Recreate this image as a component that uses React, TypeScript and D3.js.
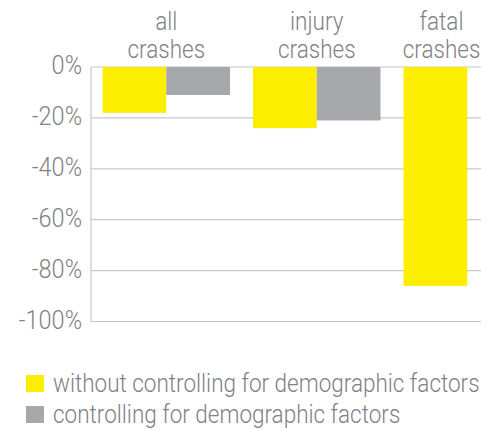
import React from "react";
import * as d3 from "d3";

const categories = ["all crashes", "injury crashes", "fatal crashes"];
const categoryLines = [["all", "crashes"], ["injury", "crashes"], ["fatal", "crashes"]];
const seriesNames = ["without controlling for demographic factors", "controlling for demographic factors"];
const withoutControl = [-18, -24, -86];
const withControl = [-11, -21, 0];
const yTicks = [0, -20, -40, -60, -80, -100];

const colors = ["#fcee00", "#a7a8ab"];
const textColor = "#808285";
const font = "Roboto, 'Liberation Sans', sans-serif";
const SX = 0.9;

export default function App() {
  const W = 494, H = 430;
  const left = 91, plotRight = 481;
  const top = 67, bottom = 321.5;
  const x0 = d3.scaleBand<string>().domain(categories).range([left, left + 451.5]).paddingInner(0.153).paddingOuter(0.0765);
  const x1 = d3.scaleBand<number>().domain([0, 1]).range([0, x0.bandwidth()]);
  const y = d3.scaleLinear().domain([0, -100]).range([top, bottom]);
  const series = [withoutControl, withControl];

  return (
    <svg width={W} height={H} style={{ position: "absolute", left: 0, top: 0, background: "#fff" }}>
      <defs>
        <clipPath id="plotclip">
          <rect x={left} y={0} width={plotRight - left} height={H} />
        </clipPath>
      </defs>
      {yTicks.map((t) => (
        <g key={t}>
          <line x1={left} x2={plotRight} y1={y(t)} y2={y(t)} stroke="#c8c8c8" strokeWidth={1.2} />
          <text
            transform={`translate(82, ${y(t) + 7}) scale(0.94, 1)`}
            textAnchor="end"
            fill={textColor}
            fontFamily={font}
            fontWeight={300}
            fontSize={25}
          >
            {t}%
          </text>
        </g>
      ))}
      <line x1={left} x2={left} y1={top} y2={bottom} stroke="#c8c8c8" strokeWidth={1.2} />
      <g clipPath="url(#plotclip)">
        {categories.map((c, i) =>
          series.map((s, j) => (
            <rect
              key={c + j}
              x={(x0(c) as number) + (x1(j) as number)}
              y={y(0)}
              width={x1.bandwidth()}
              height={y(s[i]) - y(0)}
              fill={colors[j]}
            />
          ))
        )}
      </g>
      {categories.map((c, i) => {
        const cx = Math.min((x0(c) as number) + x0.bandwidth() / 2, 441.5);
        return (
          <text
            key={c}
            transform={`translate(${cx}, 0) scale(${SX}, 1)`}
            textAnchor="middle"
            fill={textColor}
            fontFamily={font}
            fontWeight={300}
            fontSize={25}
          >
            {categoryLines[i].map((l, k) => (
              <tspan key={k} x={0} y={30 + k * 28.5}>
                {l}
              </tspan>
            ))}
          </text>
        );
      })}
      {seriesNames.map((n, j) => (
        <g key={n} transform={`translate(26, ${375 + j * 31})`}>
          <rect x={0} y={0} width={18} height={17} fill={colors[j]} />
          <text
            transform={`translate(27, 17) scale(${SX}, 1)`}
            fill={textColor}
            fontFamily={font}
            fontWeight={300}
            fontSize={25}
          >
            {n}
          </text>
        </g>
      ))}
    </svg>
  );
}
